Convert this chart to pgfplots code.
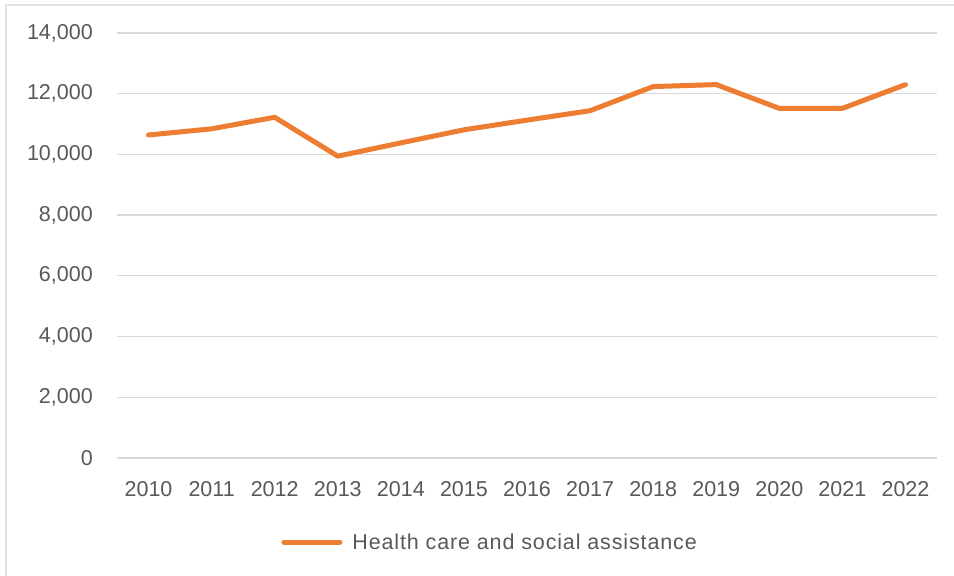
\documentclass[border=0pt]{standalone}
\usepackage{pgfplots}
\pgfplotsset{compat=1.18}
\usepackage{fontspec}
\setmainfont{Liberation Sans}
\definecolor{lineor}{HTML}{ED7D31}
\definecolor{gridc}{HTML}{D9D9D9}
\definecolor{txt}{HTML}{595959}
\definecolor{frame}{HTML}{E3E3E3}
\begin{document}
\begin{tikzpicture}[x=1bp,y=1bp]
\useasboundingbox (0,0) rectangle (954,576);
\draw[frame, line width=1.2bp] (6,0) -- (6,571) -- (954,571);
\begin{axis}[
  at={(117bp,118bp)}, anchor=south west,
  scale only axis, width=820bp, height=425bp,
  xmin=-0.5, xmax=12.5, ymin=0, ymax=14000,
  xtick={0,...,12},
  xticklabels={2010,2011,2012,2013,2014,2015,2016,2017,2018,2019,2020,2021,2022},
  ytick={0,2000,...,14000},
  scaled y ticks=false,
  /pgf/number format/.cd, 1000 sep={,}, assume math mode=true,
  /pgfplots/.cd,
  axis line style={draw=none},
  major tick length=0pt,
  ymajorgrids, grid style={gridc, line width=1.3bp},
  ticklabel style={font=\fontsize{21.5bp}{24bp}\selectfont, text=txt},
  yticklabel style={anchor=east, inner sep=0pt, xshift=-24bp},
  xticklabel style={anchor=north, inner sep=0pt, yshift=-23bp},
  legend style={at={(0.455,-0.198)}, anchor=center, draw=none, fill=none,
    font=\fontsize{21.5bp}{24bp}\selectfont\addfontfeature{LetterSpace=4}, text=txt, inner sep=0pt},
  legend image code/.code={\draw[#1, line cap=round] (0bp,0bp) -- (56bp,0bp);},
  legend cell align=left,
]
\addplot[lineor, line width=5bp, line join=round, line cap=round] coordinates {
(0,10640) (1,10843) (2,11223) (3,9943) (4,10380) (5,10810) (6,11130) (7,11440)
(8,12235) (9,12300) (10,11517) (11,11517) (12,12300)};
\addlegendentry{\hspace{8bp}Health care and social assistance}
\end{axis}
\end{tikzpicture}
\end{document}
